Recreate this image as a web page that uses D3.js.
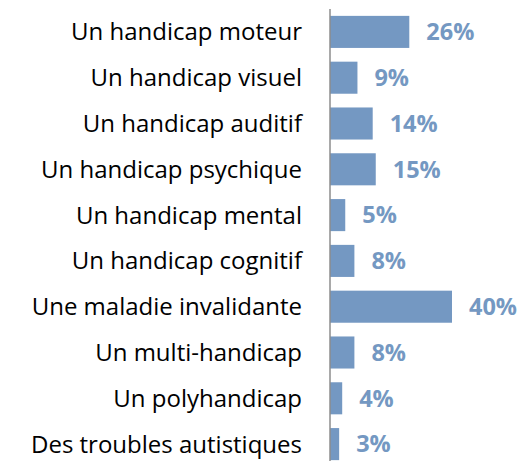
<!DOCTYPE html>
<html>
<head>
<meta charset="utf-8">
<script src="https://cdn.jsdelivr.net/npm/d3@7"></script>
<style>
  body { margin: 0; background: #fff; }
</style>
</head>
<body>
<div id="chart"></div>
<script>
const categories = ['Un handicap moteur', 'Un handicap visuel', 'Un handicap auditif',
    'Un handicap psychique', 'Un handicap mental', 'Un handicap cognitif',
    'Une maladie invalidante', 'Un multi-handicap', 'Un polyhandicap',
    'Des troubles autistiques']
const values = [26, 9, 14, 15, 5, 8, 40, 8, 4, 3]

const width = 531
const height = 461
const axisX = 330

const svg = d3.select('#chart').append('svg')
    .attr('width', width)
    .attr('height', height)

const x = d3.scaleLinear().domain([0, 40]).range([axisX, axisX + 122])
const y = d3.scaleBand().domain(categories).range([9, 467]).paddingInner(0.3).paddingOuter(0.15)

svg.selectAll('rect.bar')
    .data(categories)
    .enter().append('rect')
    .attr('class', 'bar')
    .attr('x', x(0))
    .attr('y', d => y(d))
    .attr('width', (d, i) => x(values[i]) - x(0))
    .attr('height', y.bandwidth())
    .attr('fill', '#7498c2')

svg.append('line')
    .attr('x1', axisX).attr('x2', axisX)
    .attr('y1', 9).attr('y2', height)
    .attr('stroke', '#8c8c8c')
    .attr('stroke-width', 1.5)

svg.selectAll('text.cat')
    .data(categories)
    .enter().append('text')
    .attr('class', 'cat')
    .attr('x', 302)
    .attr('y', d => y(d) + y.bandwidth() / 2)
    .attr('dy', '0.35em')
    .attr('text-anchor', 'end')
    .style('font-family', 'Open Sans, sans-serif')
    .style('font-size', '24px')
    .attr('fill', '#000')
    .text(d => d)

svg.selectAll('text.val')
    .data(categories)
    .enter().append('text')
    .attr('class', 'val')
    .attr('x', (d, i) => x(values[i]) + 17)
    .attr('y', d => y(d) + y.bandwidth() / 2)
    .attr('dy', '0.35em')
    .style('font-family', 'Open Sans, sans-serif')
    .style('font-weight', 'bold')
    .style('font-size', '23.5px')
    .attr('fill', '#7498c2')
    .text((d, i) => values[i] + '%')
</script>
</body>
</html>
